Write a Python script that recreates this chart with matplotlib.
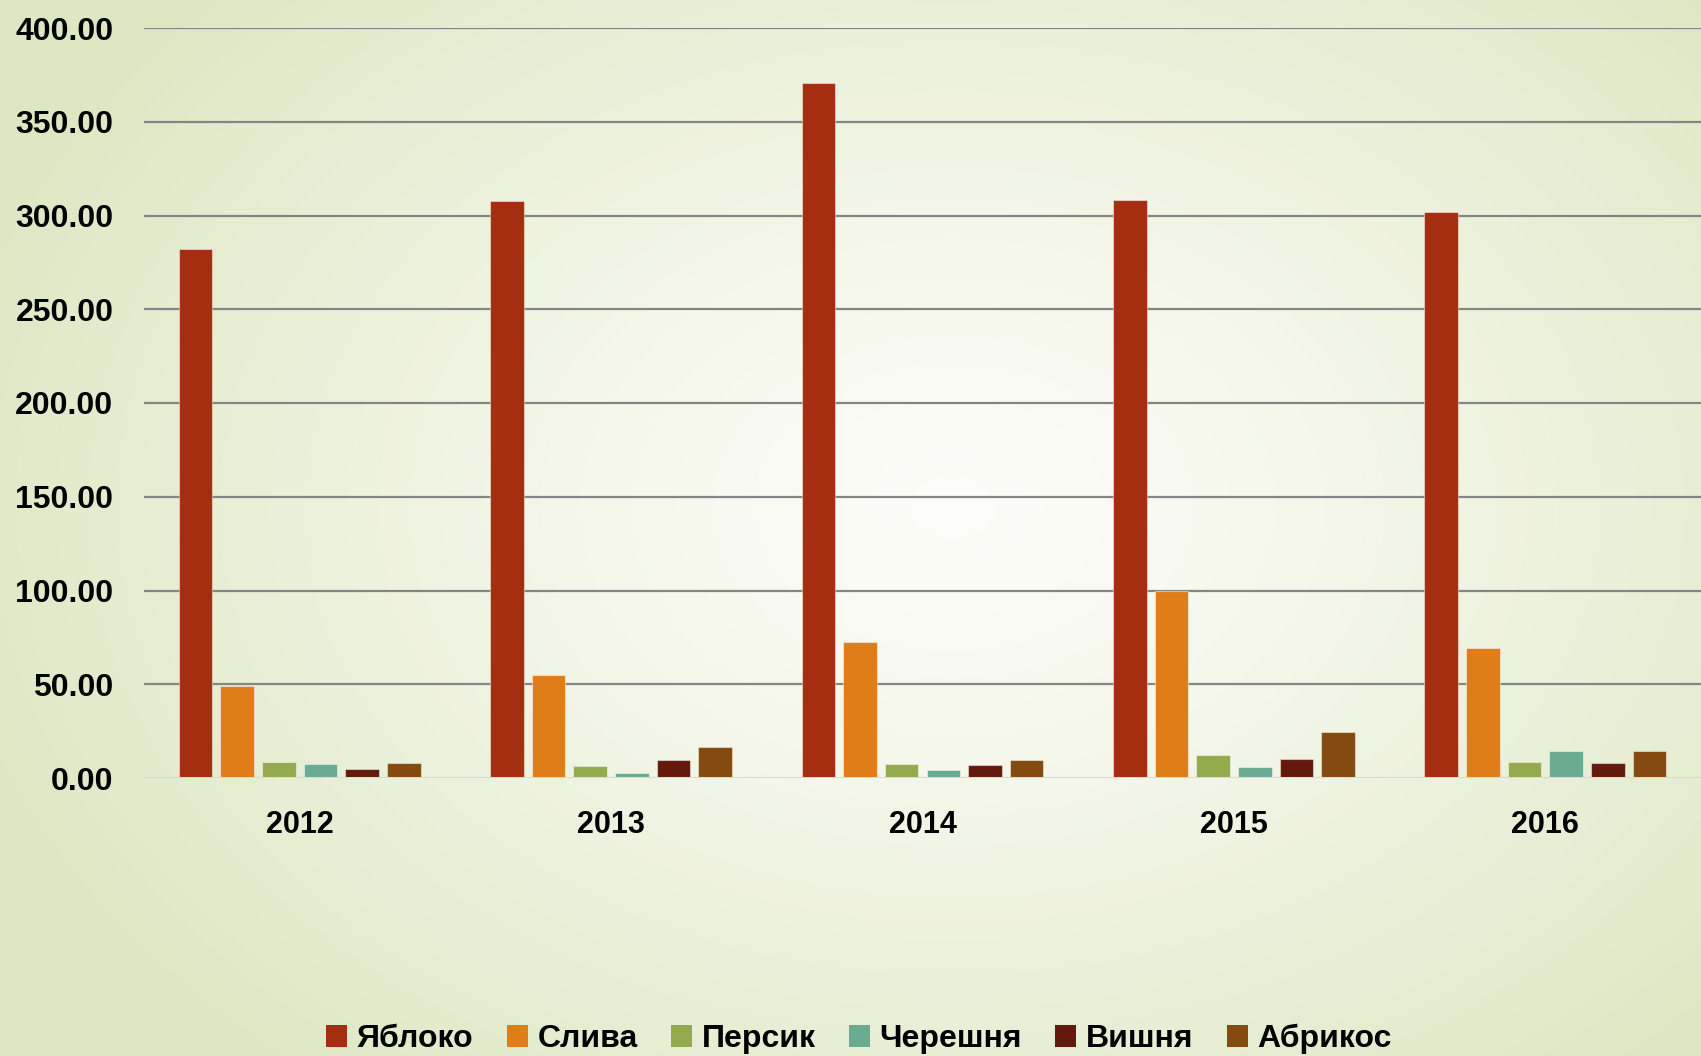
import numpy as np
import matplotlib
matplotlib.use("Agg")
import matplotlib.pyplot as plt
from matplotlib.patches import Patch

plt.rcParams['font.family'] = ['Liberation Sans', 'DejaVu Sans']
plt.rcParams['font.weight'] = 'bold'

years = ['2012', '2013', '2014', '2015', '2016']
series_names = ['Яблоко', 'Слива', 'Персик', 'Черешня', 'Вишня', 'Абрикос']
yabloko = [282.2, 307.9, 370.7, 308.4, 301.8]
sliva = [49.0, 55.2, 72.6, 100.0, 69.6]
persik = [8.3, 6.4, 7.5, 12.3, 8.7]
chereshnya = [7.6, 2.7, 4.4, 6.0, 14.6]
vishnya = [5.0, 9.6, 6.9, 10.3, 7.8]
abrikos = [7.8, 16.6, 9.8, 24.6, 14.6]
yticks = [0, 50, 100, 150, 200, 250, 300, 350, 400]
ytick_labels = ['0.00', '50.00', '100.00', '150.00', '200.00', '250.00', '300.00', '350.00', '400.00']

colors = ['#A52E11', '#DF7E18', '#94AA4E', '#6AAB92', '#631A0C', '#854A10']
all_series = [yabloko, sliva, persik, chereshnya, vishnya, abrikos]

W, H = 1701, 1056
fig = plt.figure(figsize=(W / 100, H / 100), dpi=100)

# background gradient
bg = fig.add_axes([0, 0, 1, 1], zorder=-10)
yy, xx = np.mgrid[0:1:400j, 0:1:640j]
d = np.sqrt(((xx - 0.56) / 0.62) ** 2 + ((yy - 0.48) / 0.72) ** 2)
d = np.clip(d, 0, 1) ** 1.25
c0 = np.array([253, 253, 249]) / 255
c1 = np.array([221, 231, 194]) / 255
img = c0[None, None, :] * (1 - d[..., None]) + c1[None, None, :] * d[..., None]
bg.imshow(img, aspect='auto', extent=[0, 1, 0, 1], origin='upper')
bg.axis('off')

ax = fig.add_axes([144 / W, 1 - 778 / H, 1 - 144 / W, (778 - 28) / H])
ax.set_facecolor('none')

x = np.arange(len(years))
step = 0.1337
bw = 0.108
for i, (name, vals, col) in enumerate(zip(series_names, all_series, colors)):
    ax.bar(x + (i - 2.5) * step, vals, width=bw, color=col, label=name,
           edgecolor=(1, 1, 1, 0.45), linewidth=0.8, zorder=3)

ax.set_xlim(-0.5, 4.5)
ax.set_ylim(0, 400)
ax.set_yticks(yticks)
ax.set_yticklabels(ytick_labels)
ax.set_xticks(x)
ax.set_xticklabels(years)
ax.tick_params(axis='y', length=0, pad=22, labelsize=23)
ax.tick_params(axis='x', length=0, pad=23, labelsize=22)
for lab in ax.get_xticklabels() + ax.get_yticklabels():
    lab.set_fontweight('bold')

for v in yticks[1:]:
    ax.axhline(v, color='#858585', linewidth=1.6, zorder=1)
ax.axhline(0, color='#d9d9d9', linewidth=2.2, zorder=4)
for s in ax.spines.values():
    s.set_visible(False)

handles = [Patch(facecolor=c, edgecolor='none') for c in colors]
leg = fig.legend(handles, series_names, loc='center', bbox_to_anchor=(0.505, 0.016),
                 ncol=6, frameon=False, fontsize=23, handlelength=0.65,
                 handleheight=0.65, handletextpad=0.3, columnspacing=1.05)
for t in leg.get_texts():
    t.set_fontweight('bold')

fig.savefig('out.png', dpi=100)
